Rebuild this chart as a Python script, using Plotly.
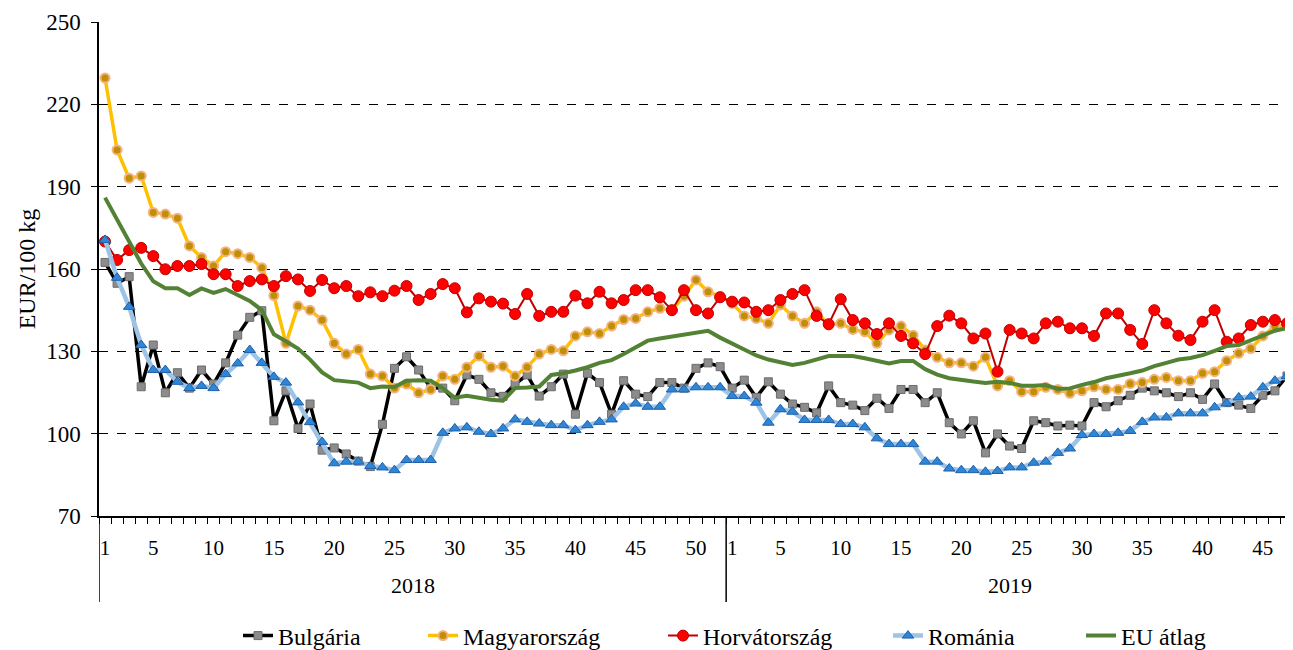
import plotly.graph_objects as go

# ---------------- data ----------------
weeks_2018 = list(range(1, 53))
weeks_2019 = list(range(1, 49))

bulgaria_2018 = [162.4, 154.8, 157.2, 117.1, 132.3, 114.9, 122.2, 116.6, 123.2, 118.1,
                 125.8, 135.9, 142.4, 144.8, 104.7, 115.6, 101.9, 110.8, 94.0, 94.8,
                 92.6, 90.0, 88.0, 103.4, 123.8, 128.0, 123.2, 116.6, 116.6, 112.0,
                 121.4, 119.8, 114.9, 113.6, 118.1, 121.4, 113.7, 117.1, 121.7, 107.1,
                 122.0, 118.6, 107.1, 119.3, 114.4, 113.5, 118.6, 118.6, 116.6, 123.8,
                 125.8, 124.4]
bulgaria_2019 = [116.6, 119.5, 113.2, 118.9, 114.4, 110.8, 109.6, 107.6, 117.4, 111.3,
                 110.4, 108.4, 112.9, 109.2, 116.1, 116.1, 111.3, 114.9, 104.0, 99.9,
                 104.7, 93.0, 99.9, 95.5, 94.6, 104.7, 104.0, 102.8, 103.1, 102.8,
                 111.3, 109.8, 112.0, 114.0, 116.6, 115.6, 114.9, 113.5, 114.9, 112.5,
                 118.1, 111.3, 110.4, 109.2, 114.0, 115.6, 121.0, 119.0]

magyar_2018 = [229.6, 203.4, 193.1, 193.9, 180.6, 180.0, 178.5, 168.4, 164.2, 161.1,
               166.3, 165.6, 164.2, 160.5, 150.3, 132.9, 146.5, 145.0, 141.4, 132.9,
               129.0, 130.7, 121.7, 121.0, 116.6, 118.1, 114.9, 116.1, 121.0, 119.8,
               124.2, 128.3, 124.2, 124.6, 121.0, 124.2, 129.0, 130.7, 130.2, 135.6,
               137.1, 136.5, 139.2, 141.6, 142.0, 144.4, 145.7, 145.0, 150.1, 156.0,
               151.7, 150.1]
magyar_2019 = [147.5, 142.9, 142.0, 140.2, 146.9, 142.9, 140.2, 144.4, 139.6, 140.2,
               138.0, 137.1, 132.9, 137.8, 139.2, 135.9, 130.5, 127.8, 125.8, 125.8,
               124.6, 127.8, 117.4, 119.3, 115.3, 115.3, 116.9, 116.1, 114.7, 115.6,
               117.1, 116.1, 116.1, 118.2, 118.6, 119.8, 120.5, 119.3, 119.3, 122.0,
               122.6, 126.6, 129.3, 131.0, 135.6, 139.2, 139.2, 137.8]

horvat_2018 = [170.0, 163.3, 166.9, 167.7, 164.7, 159.9, 161.1, 161.1, 161.8, 158.1,
               158.1, 153.8, 155.6, 156.2, 153.8, 157.4, 156.2, 152.0, 156.0, 153.0,
               153.8, 150.1, 151.5, 150.1, 152.1, 153.8, 148.7, 150.9, 154.5, 153.0,
               144.2, 149.3, 148.1, 147.4, 143.6, 150.9, 142.9, 144.4, 144.4, 150.3,
               147.5, 151.7, 147.5, 148.7, 152.3, 152.3, 149.7, 145.0, 152.3, 145.0,
               143.8, 149.7]
horvat_2019 = [148.1, 147.8, 144.4, 145.0, 148.7, 150.9, 152.3, 142.9, 139.9, 149.0,
               141.4, 140.2, 136.3, 140.2, 135.6, 132.9, 129.0, 139.2, 143.0, 140.2,
               134.7, 136.5, 122.6, 137.8, 136.5, 134.7, 140.2, 140.8, 138.4, 138.4,
               135.6, 143.8, 143.8, 137.8, 132.7, 145.0, 140.2, 135.7, 134.1, 140.8,
               145.0, 133.5, 134.7, 139.6, 140.8, 141.4, 140.2, 137.5]

romania_2018 = [170.6, 156.8, 146.2, 132.3, 123.2, 123.2, 118.9, 116.6, 117.4, 116.6,
                121.7, 125.6, 130.5, 125.8, 120.7, 118.6, 111.4, 104.2, 97.0, 89.2,
                89.8, 89.8, 88.2, 87.7, 86.7, 90.4, 90.4, 90.4, 100.3, 101.9,
                102.3, 100.7, 99.9, 101.9, 105.2, 104.3, 103.7, 103.1, 103.1, 101.3,
                103.1, 104.3, 105.2, 109.8, 111.0, 109.8, 109.8, 116.1, 116.1, 116.9,
                116.9, 116.9]
romania_2019 = [113.7, 113.7, 111.3, 104.0, 108.9, 108.0, 105.0, 105.0, 105.0, 103.5,
                103.5, 102.3, 98.3, 96.2, 96.2, 96.2, 89.8, 89.8, 87.3, 86.7,
                86.7, 86.1, 86.4, 87.7, 87.7, 89.4, 89.8, 93.0, 94.6, 99.5,
                99.9, 99.9, 100.3, 101.0, 104.3, 105.9, 105.9, 107.4, 107.4, 107.4,
                109.6, 111.0, 113.2, 113.5, 116.9, 119.3, 121.0, 124.0]

eu_2018 = [186.0, 178.0, 170.0, 162.0, 155.5, 153.0, 153.0, 150.5, 152.9, 151.3,
           152.7, 150.7, 148.4, 145.0, 136.2, 133.7, 131.0, 127.0, 122.3, 119.5,
           119.0, 118.6, 116.6, 117.2, 117.0, 119.3, 119.5, 119.3, 116.6, 113.1,
           113.8, 113.0, 112.4, 112.0, 116.6, 116.8, 117.2, 121.4, 122.0, 123.0,
           124.2, 125.8, 126.8, 129.0, 131.5, 133.9, 134.7, 135.4, 136.1, 136.8,
           137.5, 135.0]
eu_2019 = [132.8, 130.5, 128.5, 127.0, 126.0, 125.0, 125.8, 127.0, 128.3, 128.3,
           128.3, 127.5, 126.5, 125.6, 126.5, 126.5, 123.5, 121.5, 120.2, 119.5,
           119.0, 118.5, 118.9, 118.5, 117.5, 117.5, 117.7, 116.3, 116.5, 117.8,
           118.8, 120.2, 121.0, 122.0, 123.0, 124.6, 125.8, 127.0, 127.6, 128.6,
           130.2, 131.9, 132.3, 134.0, 135.6, 137.5, 138.5, 140.0]

labelled_weeks_2018 = [1, 5, 10, 15, 20, 25, 30, 35, 40, 45, 50]
labelled_weeks_2019 = [1, 5, 10, 15, 20, 25, 30, 35, 40, 45]
years = ["2018", "2019"]
y_ticks = [70, 100, 130, 160, 190, 220, 250]

# ---------------- positions on a continuous category axis ----------------
n18 = len(weeks_2018)
xpos = [w for w in weeks_2018] + [n18 + w for w in weeks_2019]
tickvals = labelled_weeks_2018 + [n18 + w for w in labelled_weeks_2019]
ticktext = [str(w) for w in labelled_weeks_2018] + [str(w) for w in labelled_weeks_2019]

FONT = "Liberation Serif, Times New Roman, serif"

# figure geometry (page has an 8px body margin)
FIG_W, FIG_H = 1285, 642
M_L, M_R, M_T, M_B = 91, 0, 14, 134
plot_w = FIG_W - M_L - M_R
plot_h = FIG_H - M_T - M_B

fig = go.Figure()

series = [
    ("Bulgária", bulgaria_2018 + bulgaria_2019, "lines+markers",
     dict(color="black", width=3.5),
     dict(symbol="square", size=8, color="#8C8C8C", line=dict(color="#6B6B6B", width=1))),
    ("Magyarország", magyar_2018 + magyar_2019, "lines+markers",
     dict(color="#FFC000", width=3.5),
     dict(symbol="circle", size=9, color="#BF9000", line=dict(color="#F4B183", width=2))),
    ("Horvátország", horvat_2018 + horvat_2019, "lines+markers",
     dict(color="#C00000", width=2),
     dict(symbol="circle", size=11, color="#FF0000", line=dict(color="#C00000", width=1))),
    ("Románia", romania_2018 + romania_2019, "lines+markers",
     dict(color="#9DC3E6", width=4.5),
     dict(symbol="triangle-up", size=10, color="#2E86D6", line=dict(color="#2060A8", width=1))),
    ("EU átlag", eu_2018 + eu_2019, "lines",
     dict(color="#548235", width=4), None),
]

legend_page_x = [238, 423, 663, 888, 1081]
legend_names = ["legend", "legend2", "legend3", "legend4", "legend5"]

for (name, yv, mode, line, marker), lg in zip(series, legend_names):
    kw = dict(x=xpos, y=yv, name=name, mode=mode, line=line, legend=lg)
    if marker is not None:
        kw["marker"] = marker
    fig.add_trace(go.Scatter(**kw))

# separators for the two-level category axis
sep_bottom = -(602 - 516) / plot_h
for xv in [0.5, n18 + 0.5]:
    fig.add_shape(type="line", xref="x", yref="paper", x0=xv, x1=xv, y0=0, y1=sep_bottom,
                  line=dict(color="black", width=1.5))

# year labels
year_centers = [(1 + n18) / 2, n18 + (1 + 47) / 2]
for yr, xc in zip(years, year_centers):
    fig.add_annotation(x=xc, xref="x", y=-(585 - 516) / plot_h, yref="paper",
                       text=yr, showarrow=False, yanchor="middle",
                       font=dict(family=FONT, size=22, color="black"))

layout_legends = {}
for lg, px in zip(legend_names, legend_page_x):
    layout_legends[lg] = dict(
        orientation="h", x=(px - 8 - M_L) / plot_w, xanchor="left",
        y=-(636 - 516) / plot_h, yanchor="middle",
        font=dict(family=FONT, size=24, color="black"),
        bgcolor="rgba(0,0,0,0)", borderwidth=0)

fig.update_layout(
    width=FIG_W, height=FIG_H,
    margin=dict(l=M_L, r=M_R, t=M_T, b=M_B, autoexpand=False),
    paper_bgcolor="white", plot_bgcolor="white",
    font=dict(family=FONT, size=20, color="black"),
    showlegend=True,
    **layout_legends,
)

fig.update_xaxes(
    range=[0.5, 99.5], showgrid=False, zeroline=False, automargin=False,
    showline=True, linecolor="black", linewidth=1.5,
    tickmode="array", tickvals=tickvals, ticktext=ticktext,
    ticks="", ticklabelstandoff=12,
    tickfont=dict(family=FONT, size=21, color="black"),
    minor=dict(ticks="outside", tick0=0.5, dtick=1, ticklen=6, tickcolor="black", tickwidth=1, showgrid=False),
)

fig.update_yaxes(
    range=[70, 250], tickmode="array", tickvals=y_ticks, automargin=False,
    showgrid=True, gridcolor="black", gridwidth=1.3, griddash="dash",
    zeroline=False, showline=True, linecolor="black", linewidth=1.5,
    ticks="outside", ticklen=6, tickcolor="black", ticklabelstandoff=6,
    tickfont=dict(family=FONT, size=23, color="black"),
    title=dict(text="EUR/100 kg", font=dict(family=FONT, size=24, color="black"), standoff=4),
)

fig.write_html("out.html")
